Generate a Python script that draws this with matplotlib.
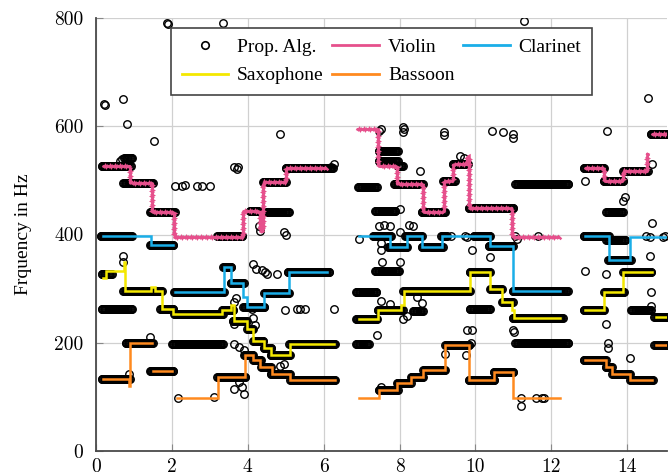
import numpy as np
import matplotlib
matplotlib.use("Agg")
import matplotlib.pyplot as plt
from matplotlib.lines import Line2D

# ---------------- data (time in s, frequency in Hz) ----------------
# ground-truth notes per instrument: phrases of consecutive (start, end, freq)
violin_phrases = [
    [(0.19, 0.90, 527), (0.90, 1.47, 496), (1.47, 2.05, 441), (2.05, 3.87, 395),
     (3.87, 4.33, 444), (4.33, 4.40, 407), (4.40, 5.00, 497), (5.00, 6.10, 522)],
    [(6.88, 7.42, 594), (7.42, 7.93, 527), (7.93, 8.63, 493), (8.63, 9.17, 441),
     (9.17, 9.42, 499), (9.42, 9.78, 530), (9.78, 9.82, 545), (9.82, 10.96, 449),
     (10.96, 12.23, 395)],
    [(12.89, 13.38, 522), (13.38, 13.90, 499), (13.90, 14.52, 517), (14.52, 14.56, 551)],
    [(14.65, 15.05, 585)],
]
clarinet_phrases = [
    [(0.19, 1.45, 397), (1.45, 2.04, 380)],
    [(2.09, 3.37, 293), (3.37, 3.55, 340), (3.55, 3.87, 310), (3.87, 3.98, 285),
     (3.98, 4.43, 266), (4.43, 5.08, 292), (5.08, 6.09, 331)],
    [(6.92, 7.76, 398), (7.76, 8.20, 376), (8.20, 8.59, 398), (8.59, 9.12, 376),
     (9.12, 10.39, 398), (10.39, 10.98, 379), (10.98, 12.23, 296)],
    [(12.89, 13.51, 398), (13.51, 14.08, 352), (14.08, 15.05, 396)],
]
saxophone_phrases = [
    [(0.19, 0.27, 320), (0.27, 0.73, 333), (0.73, 0.76, 350), (0.76, 1.46, 296),
     (1.46, 1.55, 303), (1.55, 1.74, 296), (1.74, 2.04, 263), (2.04, 3.32, 254),
     (3.32, 3.55, 260), (3.55, 3.63, 269), (3.63, 3.98, 241), (3.98, 4.15, 226),
     (4.15, 4.42, 204), (4.42, 4.60, 190), (4.60, 5.12, 177), (5.12, 6.26, 198)],
    [(6.92, 7.42, 244), (7.42, 8.05, 260), (8.05, 8.12, 270), (8.12, 9.86, 296),
     (9.86, 10.39, 331), (10.39, 10.70, 300), (10.70, 10.96, 275), (10.96, 11.02, 260),
     (11.02, 12.23, 245)],
    [(12.89, 13.40, 260), (13.40, 13.90, 293), (13.90, 14.65, 331)],
    [(14.75, 15.05, 247)],
]
bassoon_phrases = [
    [(0.19, 0.86, 133), (0.86, 0.90, 121), (0.90, 1.48, 199)],
    [(1.50, 2.00, 147)],
    [(2.13, 3.21, 97), (3.21, 3.92, 136), (3.92, 4.15, 177), (4.15, 4.33, 168),
     (4.33, 4.63, 155), (4.63, 5.12, 143), (5.12, 6.30, 131)],
    [(6.92, 7.45, 97), (7.45, 7.93, 112), (7.93, 8.30, 125), (8.30, 8.62, 137),
     (8.62, 9.20, 149), (9.20, 9.82, 195), (9.82, 10.48, 131), (10.48, 11.00, 146),
     (11.00, 12.23, 97)],
    [(12.89, 13.43, 168), (13.43, 13.60, 155), (13.60, 14.08, 143), (14.08, 14.65, 131)],
    [(14.75, 15.05, 195)],
]

# proposed algorithm: runs of frame-wise estimates (start, end, freq) on the frame grid
HOP = 0.02
det_runs = [
    (0.15, 0.92, 527), (0.75, 0.95, 541), (0.72, 1.50, 496), (1.42, 2.08, 441),
    (3.20, 3.87, 397), (4.05, 4.35, 444), (4.35, 5.10, 441), (4.40, 5.00, 497),
    (5.00, 6.25, 522), (7.45, 7.95, 555), (7.45, 7.95, 536), (7.95, 8.10, 526),
    (7.85, 8.62, 493), (8.58, 9.20, 441), (9.15, 9.45, 499), (9.40, 9.80, 530),
    (9.82, 11.00, 449), (6.90, 7.40, 487), (7.35, 7.90, 443), (11.05, 12.45, 493),
    (12.85, 13.40, 522), (13.38, 13.90, 499), (13.90, 14.55, 517), (14.62, 15.05, 585),
    (13.45, 13.90, 442),
    (0.12, 0.95, 398), (1.42, 2.05, 381), (2.05, 3.37, 293), (3.35, 3.58, 340),
    (3.55, 3.90, 310), (3.88, 4.45, 266), (4.43, 5.10, 291), (5.05, 6.15, 331),
    (7.30, 7.78, 398), (7.70, 8.20, 377), (8.15, 8.60, 398), (8.58, 9.15, 377),
    (9.10, 9.25, 398), (9.95, 10.40, 398), (10.35, 11.00, 379), (10.98, 12.45, 296),
    (12.85, 13.52, 398), (13.45, 13.95, 390), (13.50, 14.10, 352),
    (0.15, 0.42, 327), (0.72, 1.75, 296), (1.70, 2.05, 262), (2.05, 3.35, 254),
    (3.32, 3.62, 260), (3.60, 3.98, 241), (3.98, 4.15, 226), (4.15, 4.42, 204),
    (4.42, 4.62, 190), (4.60, 5.12, 177), (5.10, 6.30, 198), (0.15, 0.95, 263),
    (2.00, 3.35, 198), (6.85, 7.42, 244), (7.42, 8.08, 260), (8.10, 9.86, 296),
    (9.85, 10.40, 331), (10.38, 10.70, 300), (10.70, 10.98, 275), (10.98, 12.30, 245),
    (6.85, 7.40, 293), (7.35, 8.00, 333), (8.35, 8.62, 258), (9.85, 10.40, 263),
    (11.05, 12.45, 200), (6.85, 7.20, 198), (12.85, 13.40, 260), (13.40, 13.92, 293),
    (13.90, 14.65, 331), (14.10, 14.62, 260), (14.72, 15.05, 247),
    (0.15, 0.90, 133), (0.78, 1.50, 200), (1.42, 2.05, 147), (3.20, 3.95, 137),
    (3.90, 4.15, 177), (4.15, 4.35, 168), (4.35, 4.62, 155), (4.60, 5.12, 143),
    (5.12, 6.30, 131), (7.45, 7.95, 112), (7.93, 8.30, 125), (8.30, 8.62, 137),
    (8.62, 9.20, 149), (9.20, 9.85, 195), (9.82, 10.50, 131), (10.48, 11.00, 146),
    (12.85, 13.43, 168), (13.43, 13.60, 155), (13.60, 14.08, 143), (14.08, 14.68, 131),
    (14.72, 15.05, 195),
]
# isolated estimates
det_t = [0.25, 0.22, 0.70, 0.83, 1.54, 1.88, 1.90, 3.35,
         2.09, 2.27, 2.35, 2.66, 2.79, 3.01,
         3.65, 3.75, 3.71, 4.86, 4.33, 4.30,
         0.72, 0.72, 0.86, 1.43, 2.17, 3.10,
         3.63, 3.85, 3.89, 3.78,
         3.63, 3.78, 3.90, 3.63, 3.70, 3.65,
         4.15, 4.22, 4.37, 4.45, 4.50, 4.77, 4.11, 4.15, 4.20,
         4.85, 4.95, 4.97, 5.30, 5.38, 5.50, 6.28, 4.95, 5.00,
         6.26, 6.20, 0.68, 0.62,
         7.47, 7.50, 8.10, 8.10, 8.12, 9.17, 9.17, 8.55, 8.00, 8.02, 9.70, 9.60,
         6.92, 7.50, 7.52, 7.55, 8.00, 7.50, 7.75, 8.60, 8.46, 8.10, 8.20, 9.78, 9.75,
         7.45, 7.60, 7.75, 8.25, 8.35, 9.72, 9.78, 9.35,
         7.50, 7.40, 9.20,
         10.43, 10.74, 11.00, 11.00, 11.27,
         11.05, 11.10, 11.65, 10.39, 9.90, 11.00, 11.02, 9.90, 9.88,
         11.20, 11.20, 11.60, 11.75, 11.80,
         13.47, 14.56, 12.89, 14.65, 14.65, 13.90, 13.95,
         14.50, 14.60, 14.95, 15.00,
         12.89, 13.43, 14.60, 14.63, 14.63, 13.43, 13.50, 13.50, 14.08]
det_f = [640, 642, 650, 605, 573, 790, 789, 791,
         490, 490, 491, 489, 490, 489,
         524, 524, 521, 585, 407, 415,
         361, 349, 143, 210, 97, 99,
         115, 119, 106, 127,
         198, 192, 187, 235, 283, 276,
         346, 336, 335, 330, 327, 327, 263, 245, 232,
         157, 160, 260, 262, 262, 262, 263, 405, 400,
         530, 525, 540, 536,
         592, 594, 598, 590, 595, 590, 583, 517, 447, 405, 542, 545,
         392, 371, 384, 349, 349, 278, 272, 274, 284, 244, 250, 223, 177,
         415, 418, 415, 418, 415, 398, 395, 398,
         118, 214, 179,
         591, 590, 585, 578, 794,
         397, 392, 398, 358, 372, 223, 220, 223, 200,
         97, 84, 97, 97, 97,
         591, 652, 499, 530, 422, 462, 470,
         398, 395, 395, 398,
         333, 327, 360, 293, 267, 235, 200, 190, 171]

instruments = ["Violin", "Clarinet", "Saxophone", "Bassoon"]
colors = {"Violin": "#E6508C", "Clarinet": "#1AAEE8",
          "Saxophone": "#F4E800", "Bassoon": "#FF8A1F"}
phrases = {"Violin": violin_phrases, "Clarinet": clarinet_phrases,
           "Saxophone": saxophone_phrases, "Bassoon": bassoon_phrases}


def step_path(phr):
    xs, ys = [], []
    for p in phr:
        for (t0, t1, f) in p:
            xs += [t0, t1]
            ys += [f, f]
        xs.append(np.nan)
        ys.append(np.nan)
    return np.array(xs), np.array(ys)


# ---------------- figure ----------------
SERIF = ["Liberation Serif", "DejaVu Serif"]
fig = plt.figure(figsize=(6.7, 4.76), dpi=100)
ax = fig.add_axes([96 / 670, 25 / 476, 571 / 670, 433 / 476])

ax.set_axisbelow(True)
ax.grid(True, color="#d0d0d0", linewidth=0.9)

# detections
bx, by = [], []
for (t0, t1, f) in det_runs:
    tt = np.arange(t0, t1 + 1e-9, HOP)
    bx.extend(tt)
    by.extend([f] * len(tt))
ax.plot(bx, by, linestyle="none", marker="o", ms=5.4, mfc="none", mec="black",
        mew=1.0, zorder=2)
ax.plot(det_t, det_f, linestyle="none", marker="o", ms=5.4, mfc="none", mec="black",
        mew=1.0, zorder=2)

# ground truth
for name in instruments:
    x, y = step_path(phrases[name])
    ln, = ax.plot(x, y, color=colors[name], lw=1.8, zorder=3,
                  solid_joinstyle="miter")
    if name == "Violin":
        ln.set_sketch_params(scale=1.0, length=2.5, randomness=1.0)

ax.set_xlim(0, 15.05)
ax.set_ylim(0, 800)
ax.set_xticks(np.arange(0, 15, 2))
ax.set_yticks(np.arange(0, 801, 200))
for s in ["top", "right"]:
    ax.spines[s].set_visible(False)
for s in ["left", "bottom"]:
    ax.spines[s].set_color("#4a4a4a")
    ax.spines[s].set_linewidth(1.3)
ax.tick_params(axis="both", direction="in", length=5, width=0.8, color="#888888",
               labelsize=14)
ax.tick_params(axis="y", pad=9)
ax.tick_params(axis="x", pad=5)
for lab in ax.get_xticklabels() + ax.get_yticklabels():
    lab.set_fontfamily("cmr10")

ax.set_ylabel("Frquency in Hz", fontsize=14, family=SERIF)
ax.yaxis.set_label_coords(-0.112, 0.5)

# legend (column-major: Prop. Alg., Saxophone | Violin, Bassoon | Clarinet)
h_prop = Line2D([], [], linestyle="none", marker="o", ms=5.4, mfc="none",
                mec="black", mew=1.2)
h = {n: Line2D([], [], color=colors[n], lw=2.0) for n in instruments}
leg = ax.legend([h_prop, h["Saxophone"], h["Violin"], h["Bassoon"], h["Clarinet"]],
                ["Prop. Alg.", "Saxophone", "Violin", "Bassoon", "Clarinet"],
                ncol=3, loc="upper center", bbox_to_anchor=(0.5, 1.0),
                prop={"family": SERIF, "size": 14}, frameon=True, fancybox=False,
                framealpha=1.0, edgecolor="#444444", handlelength=2.4,
                handletextpad=0.45, columnspacing=0.45, labelspacing=0.55,
                borderpad=0.55, borderaxespad=0.5)
leg.get_frame().set_linewidth(1.2)

fig.savefig("out.png", dpi=100)
